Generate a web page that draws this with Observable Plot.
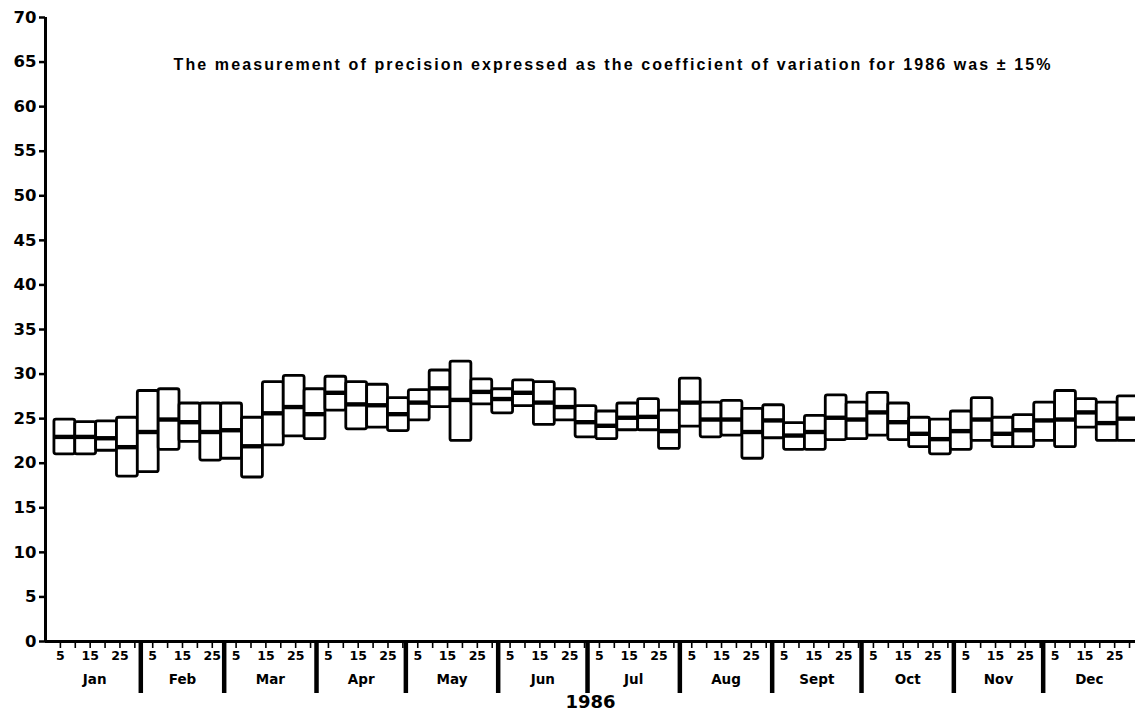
<!DOCTYPE html>
<html><head><meta charset="utf-8">
<script src="https://cdn.jsdelivr.net/npm/d3@7"></script>
<script src="https://cdn.jsdelivr.net/npm/@observablehq/plot@0.6"></script>
<style>body{margin:0;background:#fff} svg{display:block}</style>
</head><body><div id="chart"></div>
<script>
const title = "The measurement of precision expressed as the coefficient of variation for 1986 was ± 15%";
const yearLabel = "1986";
const year = 1986;
const monthNames = ["Jan","Feb","Mar","Apr","May","Jun","Jul","Aug","Sept","Oct","Nov","Dec"];
const firstWeekStart = "1986-01-03";
const lowValues  = [21.0,21.0,21.4,18.5,19.0,21.5,22.4,20.3,20.5,18.4,22.0,23.0,22.7,25.9,23.8,24.0,23.6,24.8,26.3,22.5,26.6,25.6,26.4,24.3,24.8,22.9,22.7,23.7,23.7,21.6,24.1,22.9,23.1,20.5,22.8,21.5,21.5,22.6,22.7,23.1,22.6,21.8,21.0,21.5,22.5,21.8,21.8,22.5,21.8,24.0,22.5,22.5];
const meanValues = [22.95,22.95,22.8,21.8,23.5,24.9,24.6,23.5,23.7,21.9,25.6,26.3,25.5,27.9,26.6,26.5,25.5,26.8,28.4,27.1,28.0,27.2,27.9,26.8,26.3,24.6,24.2,25.1,25.2,23.6,26.8,24.9,24.9,23.5,24.8,23.1,23.5,25.1,24.9,25.7,24.6,23.3,22.7,23.6,24.9,23.3,23.7,24.8,24.9,25.7,24.5,25.0];
const highValues = [24.9,24.6,24.7,25.1,28.1,28.3,26.7,26.7,26.7,25.1,29.1,29.8,28.3,29.7,29.1,28.8,27.3,28.2,30.4,31.4,29.4,28.3,29.3,29.1,28.3,26.4,25.8,26.7,27.2,25.9,29.5,26.8,27.0,26.1,26.5,24.5,25.3,27.6,26.8,27.9,26.7,25.1,24.9,25.8,27.3,25.1,25.4,26.8,28.1,27.2,26.8,27.5];
const yTicks = [0,5,10,15,20,25,30,35,40,45,50,55,60,65,70];
const dayTicks = [5,10,15,20,25,30];
const dayLabels = [5,15,25];

const start = new Date(firstWeekStart + "T00:00:00Z");
const weeks = meanValues.map((m, i) => ({
  x1: d3.utcDay.offset(start, 7 * i),
  x2: d3.utcDay.offset(start, 7 * i + 7),
  lo: lowValues[i], mid: m, hi: highValues[i]
}));
const monthStarts = d3.range(12).map(m => new Date(Date.UTC(year, m, 1)));
const monthEnds = d3.range(12).map(m => new Date(Date.UTC(year, m + 1, 1)));
const monthMids = monthStarts.map((s, i) => new Date((+s + +monthEnds[i]) / 2));
const minorTicks = monthStarts.flatMap((s, i) => {
  const n = d3.utcDay.count(s, monthEnds[i]);
  return dayTicks.filter(d => d <= n).map(d => new Date(Date.UTC(year, i, d)));
});
const xDomain = [new Date(Date.UTC(1985, 11, 31)), new Date(Date.UTC(1987, 0, 1))];

const chart = Plot.plot({
  width: 1135, height: 718,
  marginLeft: 45, marginRight: 0, marginTop: 17, marginBottom: 77,
  style: {fontFamily: "DejaVu Sans", fontWeight: "bold", color: "black", background: "white"},
  x: {type: "utc", domain: xDomain, axis: null, label: null},
  y: {domain: [0, 70], axis: null, label: null},
  marks: [
    Plot.axisY(yTicks, {tickSize: 6, tickPadding: 3, fontSize: 16.5, strokeWidth: 2.5, tickFormat: d => String(d), label: null}),
    Plot.axisX(minorTicks, {tickSize: 7, tickPadding: 3, fontSize: 12.5, strokeWidth: 1.6,
      tickFormat: d => dayLabels.includes(d.getUTCDate()) ? String(d.getUTCDate()) : "", label: null}),
    Plot.axisX(monthStarts.slice(1), {tickSize: 52, strokeWidth: 4.5, tickFormat: () => "", label: null}),
    Plot.axisX(monthMids, {tickSize: 0, tickPadding: 33, fontSize: 13.5, tickFormat: d => monthNames[d.getUTCMonth()], label: null}),
    Plot.rect(weeks, {x1: "x1", x2: "x2", y1: "lo", y2: "hi", fill: "white", stroke: "black", strokeWidth: 2.8, rx: 2}),
    Plot.ruleY(weeks, {x1: "x1", x2: "x2", y: "mid", stroke: "black", strokeWidth: 4.4}),
    Plot.ruleX([xDomain[0]], {stroke: "black", strokeWidth: 3}),
    Plot.ruleY([0], {stroke: "black", strokeWidth: 3}),
    Plot.text([title], {text: d => d, frameAnchor: "top-left", textAnchor: "start", dx: 128, dy: 41, fontSize: 16, fontFamily: "Liberation Sans", fontWeight: "bold"}),
    Plot.text([yearLabel], {text: d => d, frameAnchor: "bottom", dy: 66, fontSize: 18})
  ]
});
document.getElementById("chart").appendChild(chart);
d3.select(chart).selectAll("text").filter(function() { return this.textContent === title; })
  .attr("textLength", 877).attr("lengthAdjust", "spacing");
</script>
</body></html>
